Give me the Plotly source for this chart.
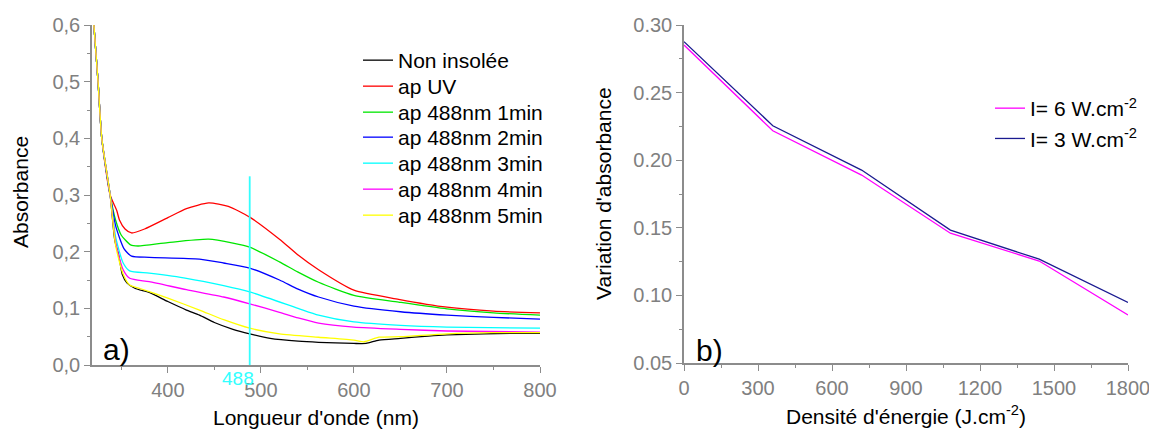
import plotly.graph_objects as go

# ---------------- Panel a) data (wavelength nm, absorbance) ----------------
steep_wl = [320.5, 325, 329, 338]
steep_ab = [0.60, 0.50, 0.40, 0.30]

black_wl = steep_wl + [343, 347, 348.5, 351, 356, 365, 380, 400, 420, 434, 450, 470, 488, 510, 540, 562, 580, 600, 613, 627, 650, 680, 700, 740, 770, 800]
black_ab = steep_ab + [0.22, 0.195, 0.182, 0.16, 0.145, 0.135, 0.128, 0.112, 0.097, 0.088, 0.075, 0.063, 0.055, 0.047, 0.042, 0.040, 0.039, 0.038, 0.038, 0.044, 0.047, 0.051, 0.053, 0.055, 0.056, 0.056]

red_wl = steep_wl + [345, 348, 354, 361, 375, 400, 420, 444, 465, 488, 520, 540, 562, 600, 648, 700, 750, 800]
red_ab = steep_ab + [0.273, 0.256, 0.240, 0.233, 0.240, 0.260, 0.276, 0.286, 0.280, 0.261, 0.222, 0.194, 0.168, 0.132, 0.116, 0.102, 0.095, 0.092]

green_wl = steep_wl + [344, 350, 360, 368, 400, 444, 470, 488, 520, 540, 562, 600, 648, 700, 750, 800]
green_ab = steep_ab + [0.255, 0.229, 0.212, 0.210, 0.216, 0.222, 0.215, 0.208, 0.182, 0.164, 0.146, 0.123, 0.111, 0.099, 0.092, 0.088]

blue_wl = steep_wl + [344, 353, 361, 380, 434, 460, 488, 520, 540, 562, 600, 650, 700, 750, 800]
blue_ab = steep_ab + [0.245, 0.205, 0.192, 0.190, 0.187, 0.180, 0.171, 0.150, 0.134, 0.120, 0.104, 0.094, 0.088, 0.084, 0.081]

cyan_wl = steep_wl + [344, 352, 359, 380, 420, 460, 488, 540, 562, 600, 650, 700, 800]
cyan_ab = steep_ab + [0.225, 0.180, 0.166, 0.162, 0.153, 0.140, 0.129, 0.100, 0.088, 0.076, 0.070, 0.067, 0.065]

magenta_wl = steep_wl + [344, 352, 359, 380, 420, 460, 488, 520, 540, 562, 600, 650, 700, 800]
magenta_ab = steep_ab + [0.215, 0.168, 0.153, 0.147, 0.133, 0.120, 0.108, 0.093, 0.083, 0.074, 0.067, 0.063, 0.060, 0.058]

yellow_wl = steep_wl + [344, 352, 359, 370, 400, 434, 460, 488, 520, 562, 600, 611, 627, 650, 700, 750, 800]
yellow_ab = steep_ab + [0.210, 0.160, 0.141, 0.135, 0.118, 0.097, 0.080, 0.065, 0.055, 0.049, 0.044, 0.041, 0.049, 0.050, 0.055, 0.057, 0.057]

series_a = [
    ("Non insolée", black_wl, black_ab, "#000000"),
    ("ap UV", red_wl, red_ab, "#ff0000"),
    ("ap 488nm 1min", green_wl, green_ab, "#00e600"),
    ("ap 488nm 2min", blue_wl, blue_ab, "#0000ff"),
    ("ap 488nm 3min", cyan_wl, cyan_ab, "#00ffff"),
    ("ap 488nm 4min", magenta_wl, magenta_ab, "#ff00ff"),
    ("ap 488nm 5min", yellow_wl, yellow_ab, "#ffff00"),
]

marker_wl = 488
marker_top = 0.333

# ---------------- Panel b) data ----------------
energy = [0, 360, 720, 1080, 1440, 1800]
var_I6 = [0.2852, 0.2218, 0.1890, 0.1460, 0.1254, 0.0855]
var_I3 = [0.2877, 0.2255, 0.1927, 0.1483, 0.1268, 0.0948]

# page body has an 8px default margin: the figure is sized to fill the rest
OFF = 8
W, H = 1157 - OFF, 433 - OFF
FONT = "Liberation Sans, Arial, sans-serif"
GRAY = "#808080"
AXC = "#8c8c8c"

def px_x(p):
    return (p - OFF) / W

def px_y(p):
    return 1 - (p - OFF) / H

fig = go.Figure()

legend_rows_a = [60, 86, 112, 137, 163, 189, 215]
legend_names = ["legend"] + ["legend%d" % (i + 3) for i in range(6)]

for i, (name, wl, ab, col) in enumerate(series_a):
    fig.add_trace(go.Scatter(x=wl, y=ab, mode="lines", name=name,
                             line=dict(color=col, width=1.3, shape="spline", smoothing=0.6),
                             xaxis="x", yaxis="y", legend=legend_names[i]))

fig.add_trace(go.Scatter(x=[marker_wl, marker_wl], y=[0, marker_top], mode="lines",
                         line=dict(color="#33ffff", width=1.8), showlegend=False,
                         xaxis="x", yaxis="y", hoverinfo="skip"))

fig.add_trace(go.Scatter(x=energy, y=var_I6, mode="lines", name="I= 6 W.cm<sup>-2</sup>",
                         line=dict(color="#ff00ff", width=1.3), xaxis="x2", yaxis="y2", legend="legend2"))
fig.add_trace(go.Scatter(x=energy, y=var_I3, mode="lines", name="I= 3 W.cm<sup>-2</sup>",
                         line=dict(color="#1a1a90", width=1.3), xaxis="x2", yaxis="y2", legend="legend2"))

common_axis = dict(showline=True, linecolor=AXC, linewidth=1.5, ticks="outside", ticklen=6,
                   tickwidth=1.2, tickcolor=AXC, showgrid=False, zeroline=False, automargin=False,
                   tickfont=dict(family=FONT, size=20, color=GRAY), mirror=False)

legend_font = dict(family=FONT, size=21, color="black")

layout = dict(
    width=W, height=H, margin=dict(l=0, r=0, t=0, b=0, autoexpand=False),
    paper_bgcolor="white", plot_bgcolor="white",
    font=dict(family=FONT, color="black"),
    xaxis=dict(domain=[px_x(92), px_x(540)], range=[318.5, 800], anchor="y",
               tickvals=[400, 500, 600, 700, 800],
               minor=dict(tickvals=[350, 450, 550, 650, 750], ticks="outside", ticklen=3, tickcolor=AXC),
               **common_axis),
    yaxis=dict(domain=[px_y(365), px_y(25)], range=[0, 0.6], anchor="x",
               tickvals=[0, 0.1, 0.2, 0.3, 0.4, 0.5, 0.6],
               ticktext=["0,0", "0,1", "0,2", "0,3", "0,4", "0,5", "0,6"],
               minor=dict(tickvals=[0.05, 0.15, 0.25, 0.35, 0.45, 0.55], ticks="outside", ticklen=3, tickcolor=AXC),
               **common_axis),
    xaxis2=dict(domain=[px_x(684), px_x(1128)], range=[0, 1800], anchor="y2",
                tickvals=[0, 300, 600, 900, 1200, 1500, 1800],
                minor=dict(tickvals=[150, 450, 750, 1050, 1350, 1650], ticks="outside", ticklen=3, tickcolor=AXC),
                **common_axis),
    yaxis2=dict(domain=[px_y(363), px_y(25)], range=[0.05, 0.30], anchor="x2",
                tickvals=[0.05, 0.10, 0.15, 0.20, 0.25, 0.30],
                ticktext=["0.05", "0.10", "0.15", "0.20", "0.25", "0.30"],
                minor=dict(tickvals=[0.075, 0.125, 0.175, 0.225, 0.275], ticks="outside", ticklen=3, tickcolor=AXC),
                **common_axis),
    legend2=dict(x=px_x(990), y=px_y(88), xanchor="left", yanchor="top",
                 font=legend_font, bgcolor="rgba(0,0,0,0)", tracegroupgap=0, itemwidth=30),
)
for lname, row in zip(legend_names, legend_rows_a):
    layout[lname] = dict(x=px_x(358), y=px_y(row - 20), xanchor="left", yanchor="top",
                         font=legend_font, bgcolor="rgba(0,0,0,0)", itemwidth=30)
fig.update_layout(**layout)

ann = [
    dict(text="Absorbance", x=px_x(21), y=px_y(192), textangle=-90, font=dict(size=21)),
    dict(text="Longueur d'onde (nm)", x=px_x(316), y=px_y(417), font=dict(size=21)),
    dict(text="Variation d'absorbance", x=px_x(603), y=px_y(194), textangle=-90, font=dict(size=21)),
    dict(text="Densité d'énergie (J.cm<sup>-2</sup>)", x=px_x(906), y=px_y(415), font=dict(size=21)),
    dict(text="a)", x=px_x(116), y=px_y(349), font=dict(size=30)),
    dict(text="b)", x=px_x(709), y=px_y(350), font=dict(size=30)),
]
for a in ann:
    a.update(xref="paper", yref="paper", showarrow=False, xanchor="center", yanchor="middle")
    a["font"] = dict(family=FONT, color="black", size=a["font"]["size"])
    fig.add_annotation(**a)

fig.add_annotation(text="488", x=marker_wl, y=0, xref="x", yref="y", showarrow=False,
                   xanchor="right", yanchor="top", xshift=6, yshift=-1,
                   font=dict(family=FONT, size=19, color="#33ffff"))

fig.write_html("out.html")
